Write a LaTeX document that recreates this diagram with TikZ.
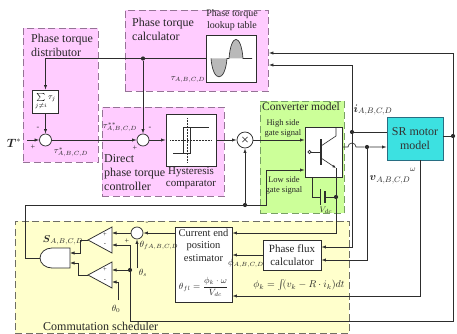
\documentclass[tikz,border=0pt]{standalone}
\usepackage{fontspec}
\setmainfont{Liberation Serif}
\usepackage{amsmath}
\usetikzlibrary{arrows.meta,calc}
\definecolor{pinkfill}{RGB}{255,204,255}
\definecolor{pinkedge}{RGB}{150,115,150}
\definecolor{greenfill}{RGB}{204,255,153}
\definecolor{greenedge}{RGB}{120,160,100}
\definecolor{yellowfill}{RGB}{255,255,204}
\definecolor{yellowedge}{RGB}{110,110,100}
\definecolor{motorfill}{RGB}{60,225,225}
\definecolor{motoredge}{RGB}{40,110,130}
\definecolor{ln}{RGB}{45,45,45}
\begin{document}
\begin{tikzpicture}[x=1pt,y=-1pt,
 region/.style={dash pattern=on 7pt off 3.5pt, line width=0.9pt, inner sep=0pt, anchor=north west},
 pinkreg/.style={region, draw=pinkedge, fill=pinkfill},
 wire/.style={draw=ln, line width=0.65pt},
 arr/.style={wire, -{Latex[length=4.5pt,width=3.2pt]}},
 blk/.style={draw=ln, fill=white, line width=0.75pt, inner sep=0pt},
 sumj/.style={circle, draw=ln, fill=white, line width=0.75pt, minimum size=12pt, inner sep=0pt},
 jdot/.style={circle, fill=ln, inner sep=0pt, minimum size=4.2pt},
 lbl/.style={inner sep=0pt, font=\fontsize{12}{14}\selectfont, align=left, text=black!85},
 sml/.style={inner sep=0pt, font=\fontsize{9}{10.5}\selectfont, align=center, text=black!85},
 mlbl/.style={inner sep=0pt, font=\fontsize{9}{9}\selectfont, text=black!85},
 sgn/.style={inner sep=0pt, font=\fontsize{8}{8}\selectfont, text=black!85},
]
\useasboundingbox (0,0) rectangle (457,334);
% regions
\node[region, draw=yellowedge, fill=yellowfill, minimum width=334pt, minimum height=112pt] (sched) at (15,221) {};
\node[pinkreg, minimum width=75pt, minimum height=134pt] (dist) at (23,28) {};
\node[pinkreg, minimum width=143pt, minimum height=81pt] (calc) at (125,10) {};
\node[pinkreg, minimum width=122pt, minimum height=89pt] (dptc) at (102,107) {};
\node[region, draw=greenedge, fill=greenfill, minimum width=84pt, minimum height=112pt] (conv) at (260,101) {};
% region labels
\node[lbl, anchor=north west] (distl) at (31,33.5) {Phase torque\\distributor};
\node[lbl, anchor=north west] (calcl) at (132,17.5) {Phase torque\\calculator};
\node[lbl, anchor=north west] (dptcl) at (104,154.5) {Direct\\phase torque\\controller};
\node[lbl, anchor=north west, font=\fontsize{11.5}{13}\selectfont] (convl) at (262,102) {Converter model};
\node[lbl, anchor=north west] (schedl) at (43,321.5) {Commutation scheduler};
\node[sml, font=\fontsize{10}{12}\selectfont, anchor=north] (lutl) at (232,9) {Phase torque\\lookup table};
\node[sml, font=\fontsize{11}{12.5}\selectfont, anchor=north] (hystl) at (191,167) {Hysteresis\\comparator};
\node[sml, font=\fontsize{8.5}{10}\selectfont] (hsl) at (283,128) {High side\\gate signal};
\node[sml, font=\fontsize{8.5}{10}\selectfont] (lsl) at (284,185) {Low side\\gate signal};
% blocks
\node[blk, minimum width=50pt, minimum height=47pt] (lut) at (231,58.5) {};
\node[blk, minimum width=26pt, minimum height=23pt] (sig) at (45.5,101.5) {\fontsize{8}{8}\selectfont$\sum\limits_{j\neq i}\tau_j$};
\node[sumj] (s1) at (45.5,140) {};
\node[sumj] (s2) at (143,140) {};
\node[blk, minimum width=50pt, minimum height=52pt] (hyst) at (191,140) {};
\node[sumj, minimum size=16pt] (mul) at (245,140) {$\boldsymbol{\times}$};
\node[blk, minimum width=37pt, minimum height=50pt] (tr) at (323.5,152) {};
\node[blk, draw=motoredge, fill=motorfill, minimum width=56pt, minimum height=43pt, font=\fontsize{12}{14}\selectfont, align=center, text=black!80] (motor) at (415,138.5) {SR motor\\model};
\node[blk, minimum width=57pt, minimum height=75pt] (est) at (203.5,264.5) {};
\node[blk, minimum width=58pt, minimum height=30pt, align=center, font=\fontsize{11}{13}\selectfont, text=black!85] (flux) at (292,255) {Phase flux\\calculator};
\node[sumj] (s3) at (137,233) {};
\node[sml, font=\fontsize{10.5}{12.5}\selectfont] (estl) at (203.5,245) {Current end\\position\\estimator};
\node[mlbl] (estf) at (203.5,287) {$\theta_{fl}=\dfrac{\phi_k\cdot\omega}{V_{dc}}$};
\node[mlbl, font=\fontsize{10}{10}\selectfont] (fluxf) at (299,285) {$\phi_k=\smash{\int}\!(v_k-R\cdot i_k)dt$};
% lookup waveform
\fill[gray!55] (211,58.5) .. controls (213,83) and (225,83) .. (227,58.5) -- cycle;
\fill[gray!55] (229,58.5) .. controls (231,33) and (241,33) .. (243,58.5) -- cycle;
\draw[wire] (211,58.5) .. controls (213,83) and (225,83) .. (227,58.5) -- (229,58.5) .. controls (231,33) and (241,33) .. (243,58.5) -- (252,58.5);
% hysteresis symbol
\draw[ln, densely dotted, line width=0.5pt] (170,140) -- (212,140) (187,118) -- (187,162);
\draw[wire, line width=0.9pt] (173,153) -- (190,153) -- (190,127);
\draw[wire, line width=0.9pt] (183,153) -- (183,127) -- (209,127);
% comparators and AND gate
\draw[wire, line width=0.75pt, fill=white] (88,240) -- (112,227) -- (112,253) -- cycle;
\draw[wire, line width=0.75pt, fill=white] (88,275) -- (112,262) -- (112,288) -- cycle;
\draw[wire, line width=0.75pt, fill=white] (70,248) -- (52,248) arc[start angle=270,end angle=90,x radius=12,y radius=10] -- (70,268) -- cycle;
\coordinate (c1o) at (88,240);
\coordinate (c2o) at (88,275);
\coordinate (c1a) at (112,233);
\coordinate (c1b) at (112,245);
\coordinate (c2a) at (112,270);
\coordinate (c2b) at (112,282);
\coordinate (gout) at (40,258);
\coordinate (gin1) at (70,253);
\coordinate (gin2) at (70,263);
\node[sgn, font=\fontsize{6.5}{6.5}\selectfont] at (105,234.5) {+};
\node[sgn, font=\fontsize{6.5}{6.5}\selectfont] at (105,245) {-};
\node[sgn, font=\fontsize{6.5}{6.5}\selectfont] at (105,269.5) {+};
\node[sgn, font=\fontsize{6.5}{6.5}\selectfont] at (105,281) {-};
% transistor
\draw[wire] (309.5,152) circle[radius=1.6];
\draw[wire] (311.1,152) -- (321,152);
\draw[ln, line width=1.4pt] (321,139) -- (321,165);
\draw[wire] (321,146) -- (336,136) -- (336,127);
\draw[wire, -{Latex[length=3.5pt,width=2.8pt]}] (321,158) -- (336,168);
\draw[wire] (336,168) -- (336,177);
% dots
\node[jdot] (d1) at (143,58.5) {};
\node[jdot] (d2) at (245,205) {};
\node[jdot] (d3) at (367,147) {};
\node[jdot] (d4) at (352,132) {};
\node[jdot] (d5) at (453,136) {};
\node[jdot] (d6) at (130,270) {};
\node[jdot] (d7) at (336,197) {};
% battery
\draw[wire] (312,177) -- (312,197) -- (320,197);
\draw[ln, line width=0.8pt] (320,189) -- (320,205);
\draw[ln, line width=1.8pt] (325,191) -- (325,203);
\draw[wire] (325,197) -- (d7);
\draw[wire] (336,177) -- (d7);
% wires
\draw[arr] (lut.west) -| (sig.north);
\draw[arr] (d1) -- (s2.north);
\draw[arr] (sig.south) -- (s1.north);
\coordinate (tin) at (27,140);
\draw[arr] (tin) -- (s1.west);
\draw[arr] (s1.east) -- (s2.west);
\draw[arr] (s2.east) -- (hyst.west);
\draw[arr] (hyst.east) -- (mul.west);
\draw[arr] (mul.east) -- (mul.east -| tr.west);
\coordinate (lsc) at (266,170);
\draw[arr] (gout) -- (25,258) -- (25,205) -- (266,205) -- (lsc) -- (lsc -| tr.west);
\draw[arr] (d2) -- (mul.south);
\coordinate (to) at ($(tr.east)+(0,-5)$);
\draw[arr] (to) -- (348,147) arc[start angle=180,end angle=360,radius=4] -- (d3) -- (d3 -| motor.west);
\draw[wire] (motor.west |- d4) -- (d4);
\coordinate (yi) at (352,65);
\draw[arr] (d4) -- (yi) -- (yi -| calc.east);
\coordinate (yi2) at (352,247);
\draw[arr] (d4) -- (yi2) -- (yi2 -| flux.east);
\coordinate (yv) at (367,260);
\draw[arr] (d3) -- (yv) -- (yv -| flux.east);
\coordinate (yw) at (420,296);
\draw[arr] (motor.south -| yw) -- (yw) -- (yw -| est.east);
\draw[wire] (motor.east |- d5) -- (d5);
\coordinate (yt) at (453,53);
\draw[arr] (d5) -- (yt) -- (yt -| calc.east);
\coordinate (yb) at (453,321);
\coordinate (yb2) at (130,321);
\draw[arr] (d5) -- (yb) -- (yb2) |- (c1b);
\draw[arr] (d6) -- (c2a);
\coordinate (yd) at (336,233);
\draw[arr] (d7) -- (yd) -- (yd -| est.east);
\draw[arr] (flux.west) -- (flux.west -| est.east);
\draw[arr] (s3 -| est.west) -- (s3.east);
\draw[arr] (s3.west) -- (c1a);
\coordinate (ths) at (137,268);
\draw[arr] (ths) -- (s3.south);
\coordinate (th0) at (118,300);
\draw[arr] (th0) |- (c2b);
\draw[arr] (c1o) -- (80,240) |- (gin1);
\draw[arr] (c2o) -- (78,275) |- (gin2);
% math labels
\node[mlbl, font=\fontsize{12}{12}\selectfont] at (14,143) {$\boldsymbol{T}^{*}$};
\node[mlbl] at (188,80) {$\tau_{A,B,C,D}$};
\node[mlbl] at (71,152) {$\tau^{*}_{A,B,C,D}$};
\node[mlbl] at (120,127) {$\tau^{**}_{A,B,C,D}$};
\node[mlbl, font=\fontsize{11}{11}\selectfont] at (373,110) {$\boldsymbol{i}_{A,B,C,D}$};
\node[mlbl, font=\fontsize{11}{11}\selectfont] at (390,180) {$\boldsymbol{v}_{A,B,C,D}$};
\node[mlbl, font=\fontsize{8}{8}\selectfont] at (413,170) {$\omega$};
\node[mlbl, font=\fontsize{10}{10}\selectfont] at (63,240) {$\boldsymbol{S}_{A,B,C,D}$};
\node[mlbl] at (159,245) {$\theta_{fA,B,C,D}$};
\node[mlbl] at (143,273) {$\theta_s$};
\node[mlbl] at (116,309) {$\theta_0$};
\node[mlbl] at (246,263) {$\phi_{A,B,C,D}$};
\node[mlbl, font=\fontsize{8}{8}\selectfont] at (326,210) {$V_{dc}$};
% signs
\node[sgn] at (38,128) {-};
\node[sgn] at (33,147) {+};
\node[sgn] at (150,128) {-};
\node[sgn] at (135,148) {+};
\node[sgn] at (147,223) {-};
\node[sgn] at (127,241) {+};
\end{tikzpicture}
\end{document}
